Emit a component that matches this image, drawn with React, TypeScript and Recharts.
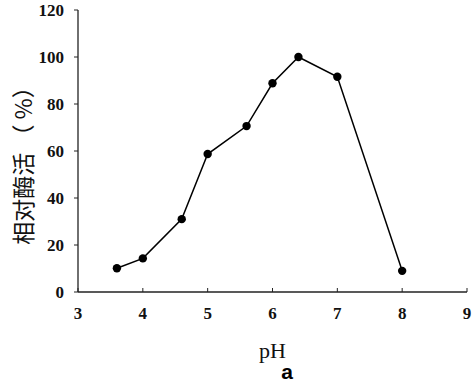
import { LineChart, Line, XAxis, YAxis, Label } from 'recharts';

const phValues = [3.6, 4.0, 4.6, 5.0, 5.6, 6.0, 6.4, 7.0, 8.0];
const activity = [10.1, 14.3, 31, 58.7, 70.6, 88.8, 100, 91.6, 9];
const xTicks = [3, 4, 5, 6, 7, 8, 9];
const yTicks = [0, 20, 40, 60, 80, 100, 120];

const data = phValues.map((ph, i) => ({ ph, activity: activity[i] }));

const serif = '"Liberation Serif", "Times New Roman", serif';

// recharts kept falling back to sans for ticks, so draw them ourselves
function SerifTick(props: any) {
    const { x, y, payload, textAnchor } = props;
    return (
        <text
            x={x}
            y={y}
            textAnchor={textAnchor}
            dominantBaseline="central"
            style={{ fontFamily: serif, fontWeight: 700, fontSize: 17, fill: '#111' }}
        >
            {payload.value}
        </text>
    );
}

export default function App() {
    return (
        <div style={{ position: 'absolute', left: 0, top: 0, width: 474, height: 385, background: '#fff' }}>
            <LineChart width={474} height={385} data={data} margin={{ top: 10, right: 7, bottom: 0, left: 0 }}>
                <XAxis
                    dataKey="ph"
                    type="number"
                    domain={[3, 9]}
                    ticks={xTicks}
                    tick={<SerifTick />}
                    tickSize={-4}
                    tickMargin={25}
                    stroke="#222"
                    axisLine={{ stroke: '#222', strokeWidth: 1.3 }}
                    height={93}
                >
                    <Label
                        value="pH"
                        position="insideTop"
                        offset={50}
                        style={{ fontFamily: serif, fontSize: 22, fill: '#111' }}
                    />
                </XAxis>
                <YAxis
                    type="number"
                    domain={[0, 120]}
                    ticks={yTicks}
                    tick={<SerifTick />}
                    tickSize={4}
                    tickMargin={10}
                    width={78}
                    stroke="#222"
                    axisLine={{ stroke: '#222', strokeWidth: 1.3 }}
                />
                <Line
                    dataKey="activity"
                    stroke="#000"
                    strokeWidth={1.5}
                    dot={{ r: 4.2, fill: '#000', stroke: '#000', strokeWidth: 0 }}
                    isAnimationActive={false}
                />
            </LineChart>
            <div
                style={{
                    position: 'absolute',
                    left: 22,
                    top: 160,
                    transform: 'translate(-50%, -50%) rotate(-90deg)',
                    whiteSpace: 'nowrap',
                    fontFamily: '"Noto Sans CJK SC", sans-serif',
                    fontSize: 23,
                    color: '#111',
                }}
            >
                相对酶活 （ %）
            </div>
            <div
                style={{
                    position: 'absolute',
                    left: 287,
                    top: 372,
                    transform: 'translate(-50%, -50%)',
                    fontFamily: '"Liberation Sans", Arial, sans-serif',
                    fontWeight: 'bold',
                    fontSize: 21,
                    color: '#000',
                }}
            >
                a
            </div>
        </div>
    );
}
